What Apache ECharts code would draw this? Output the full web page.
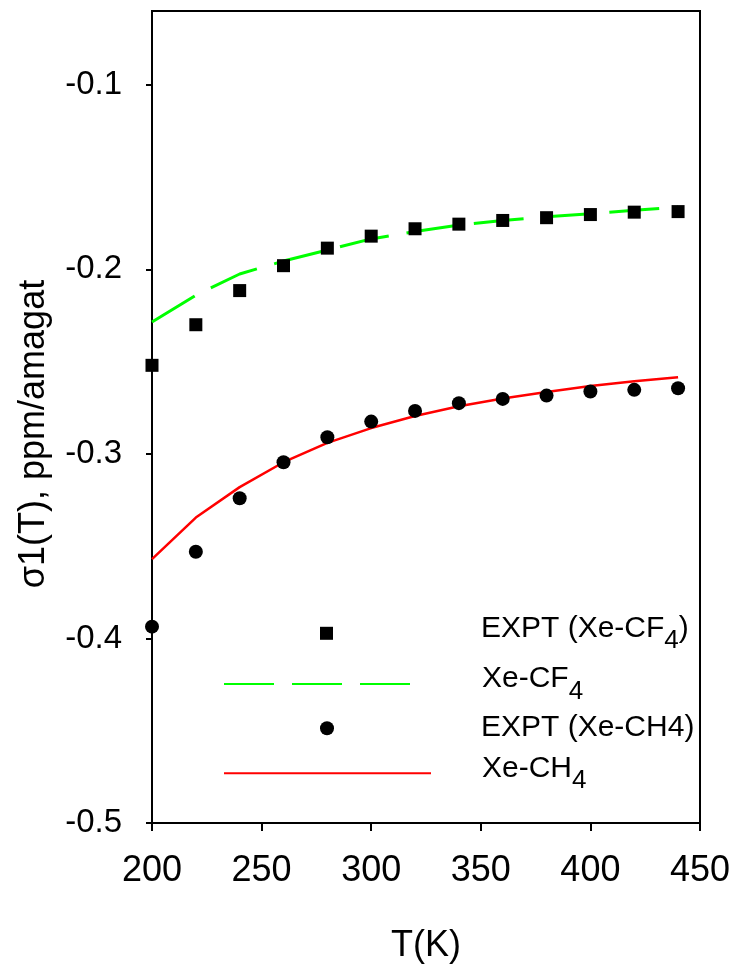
<!DOCTYPE html>
<html>
<head>
<meta charset="utf-8">
<script src="https://cdn.jsdelivr.net/npm/echarts@6/dist/echarts.min.js"></script>
<style>
html,body{margin:0;padding:0;background:#fff;}
#chart{width:735px;height:969px;}
</style>
</head>
<body>
<div id="chart"></div>
<script>
// ---- data ----
const temps = [200, 220, 240, 260, 280, 300, 320, 340, 360, 380, 400, 420, 440];
const exptCF4 = [-0.252, -0.230, -0.2115, -0.198, -0.1885, -0.182, -0.178, -0.1755, -0.1735, -0.172, -0.1703, -0.169, -0.1687];
const theoCF4 = [-0.2285, -0.214, -0.2025, -0.1955, -0.1895, -0.1835, -0.1795, -0.176, -0.1735, -0.1715, -0.1698, -0.168, -0.1662];
const exptCH4 = [-0.3936, -0.353, -0.324, -0.3045, -0.291, -0.2825, -0.2767, -0.2725, -0.2702, -0.2684, -0.2662, -0.2653, -0.2644];
const theoCH4 = [-0.357, -0.3345, -0.318, -0.3045, -0.294, -0.286, -0.2795, -0.2742, -0.270, -0.2664, -0.2632, -0.2606, -0.2585];
const yTicks = [-0.5, -0.4, -0.3, -0.2, -0.1];
const xTicks = [200, 250, 300, 350, 400, 450];
const seriesNames = ['EXPT (Xe-CF4)', 'Xe-CF4', 'EXPT (Xe-CH4)', 'Xe-CH4'];
const legendLabels = {
  'EXPT (Xe-CF4)': '{m|EXPT (Xe-CF}{s|4}{m|)}',
  'Xe-CF4': '{m|Xe-CF}{s|4}',
  'EXPT (Xe-CH4)': '{m|EXPT (Xe-CH4)}',
  'Xe-CH4': '{m|Xe-CH}{s|4}'
};

const pair = (xs, ys) => xs.map((x, i) => [x, ys[i]]);
const FONT = 'Liberation Sans';

function legendText(padLeft) {
  return {
    color: '#000',
    fontFamily: FONT,
    padding: [0, 0, 0, padLeft],
    rich: {
      m: { fontSize: 30, lineHeight: 31, verticalAlign: 'top', fontFamily: FONT, color: '#000' },
      s: { fontSize: 26, lineHeight: 40, verticalAlign: 'top', padding: [14.5, 0, 0, 0], fontFamily: FONT, color: '#000' }
    }
  };
}
function mkLegend(name, left, top, w, h, padLeft, hideSymbol) {
  const l = {
    data: [name], left: left, top: top, padding: 0, itemWidth: w, itemHeight: h,
    selectedMode: false, orient: 'horizontal',
    formatter: n => legendLabels[n],
    textStyle: legendText(padLeft)
  };
  if (hideSymbol) l.itemStyle = { opacity: 0 };
  return l;
}

const chart = echarts.init(document.getElementById('chart'), null, { renderer: 'canvas' });
chart.setOption({
  animation: false,
  backgroundColor: '#fff',
  grid: { left: 152, top: 11, width: 548, height: 812, show: true, borderColor: '#000', borderWidth: 2, backgroundColor: 'transparent' },
  legend: [
    mkLegend(seriesNames[0], 320, 613.3, 13, 13, 143, false),
    mkLegend(seriesNames[1], 223, 664, 188, 14, 65, true),
    mkLegend(seriesNames[2], 320, 712.8, 14, 14, 142, false),
    mkLegend(seriesNames[3], 223, 753.3, 207, 14, 46, true)
  ],
  xAxis: {
    type: 'value', min: 200, max: 450, interval: 50,
    axisLine: { show: true, onZero: false, lineStyle: { color: '#000', width: 2 } },
    axisTick: { show: true, length: 8, lineStyle: { color: '#000', width: 2 }, customValues: xTicks },
    axisLabel: { fontSize: 36, fontFamily: FONT, color: '#000', margin: 30, customValues: xTicks },
    splitLine: { show: false },
    name: 'T(K)', nameLocation: 'middle', nameGap: 105,
    nameTextStyle: { fontSize: 36, fontFamily: FONT, color: '#000' }
  },
  yAxis: {
    type: 'value', min: -0.5, max: -0.06,
    axisLine: { show: true, onZero: false, lineStyle: { color: '#000', width: 2 } },
    axisTick: { show: true, length: 6, lineStyle: { color: '#000', width: 2 }, customValues: yTicks },
    axisLabel: { fontSize: 33, fontFamily: FONT, color: '#000', margin: 30, customValues: yTicks, formatter: v => String(v) },
    splitLine: { show: false },
    name: 'σ1(T), ppm/amagat', nameLocation: 'middle', nameGap: 100,
    nameTextStyle: { fontSize: 36, fontFamily: FONT, color: '#000', padding: [0, 34, 0, 0] }
  },
  series: [
    {
      name: seriesNames[1], type: 'line', data: pair(temps, theoCF4), symbol: 'none', z: 2,
      lineStyle: { color: '#00ff00', width: 3, type: [50, 18] }, itemStyle: { color: '#00ff00' }
    },
    {
      name: seriesNames[3], type: 'line', data: pair(temps, theoCH4), symbol: 'none', z: 2,
      lineStyle: { color: '#ff0000', width: 2.5, type: 'solid' }, itemStyle: { color: '#ff0000' }
    },
    {
      name: seriesNames[0], type: 'scatter', data: pair(temps, exptCF4), symbol: 'rect', symbolSize: 13, z: 3,
      itemStyle: { color: '#000', opacity: 1 }
    },
    {
      name: seriesNames[2], type: 'scatter', data: pair(temps, exptCH4), symbol: 'circle', symbolSize: 14, z: 3,
      itemStyle: { color: '#000', opacity: 1 }
    }
  ]
});
</script>
</body>
</html>
